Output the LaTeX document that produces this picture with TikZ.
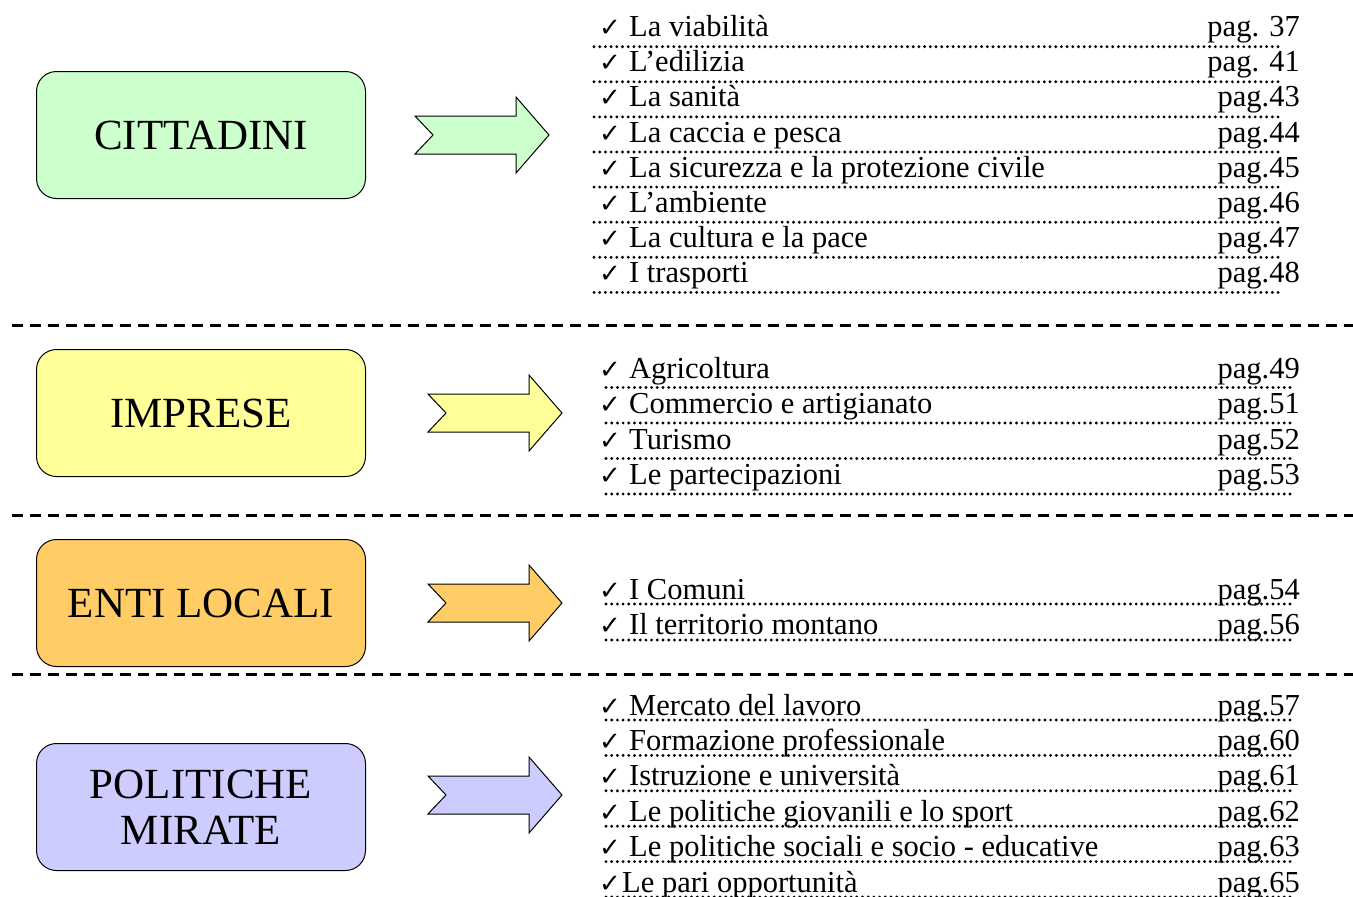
\documentclass[tikz,border=0pt]{standalone}
\usepackage{fontspec}
\setmainfont{Liberation Serif}
\newfontfamily\checkfont{DejaVu Sans}
\definecolor{verde}{HTML}{CCFFCC}
\definecolor{giallo}{HTML}{FFFF99}
\definecolor{arancio}{HTML}{FFCC66}
\definecolor{lilla}{HTML}{CCCCFF}
\tikzset{
	area/.style={draw,line width=1pt,rounded corners=20pt,minimum width=329pt,minimum height=127pt,align=center,font=\fontsize{43}{50}\selectfont},
	voce/.style={anchor=base west,inner sep=0pt,font=\fontsize{30.5}{36}\selectfont},
	pagina/.style={anchor=base east,inner sep=0pt,font=\fontsize{30.5}{36}\selectfont},
	spunta/.style={anchor=base west,inner sep=0pt,font=\checkfont\fontsize{26}{28}\selectfont},
	punti/.style={line width=3.2pt,line cap=round,dash pattern=on 0pt off 5.7pt},
	separa/.style={line width=3pt,dash pattern=on 11pt off 7pt},
	freccia/.style={draw,line width=1pt,line join=miter}
}
% riga dell'indice: nome, linea di base, x del testo, testo, pagina, distanza dei punti
\newcommand{\riga}[6]{
	\draw[punti] (\xa,{#2+#6}) -- (\xb,{#2+#6});
	\node[spunta] (#1s) at (599,{#2}) {✓};
	\node[voce] (#1) at (#3,{#2}) {#4};
	\node[pagina] (#1p) at (1300,{#2}) {#5};}
% freccia con coda dentellata, dal punto #1
\newcommand{\frecciona}[2]{
	\draw[freccia,fill=#2] (#1) ++(0,-19) -- ++(101,0) -- ++(0,-19) -- ++(33,38) -- ++(-33,38) -- ++(0,-19) -- ++(-101,0) -- ++(18,-19) -- cycle;}
\begin{document}
\begin{tikzpicture}[x=1pt,y=-1pt,line join=round]
	\useasboundingbox (0,0) rectangle (1353,897);
	\node[area,fill=verde] (cittadini) at (201,135) {CITTADINI};
	\node[area,fill=giallo] (imprese) at (201,413) {IMPRESE};
	\node[area,fill=arancio] (enti) at (201,603) {ENTI LOCALI};
	\node[area,fill=lilla] (politiche) at (201,807) {POLITICHE\\[-4pt]MIRATE};
	\coordinate (f1) at (415,135);
	\coordinate (f2) at (428,413);
	\coordinate (f3) at (428,603);
	\coordinate (f4) at (428,795);
	\frecciona{f1}{verde}
	\frecciona{f2}{giallo}
	\frecciona{f3}{arancio}
	\frecciona{f4}{lilla}
	\foreach \y in {325,515,674}
		\draw[separa] (12,\y) -- (1353,\y);
	\def\xa{594}\def\xb{1283}
	\foreach \v/\p [count=\i] in {La viabilità/pag. 37,L’edilizia/pag. 41,La sanità/pag.43,La caccia e pesca/pag.44,La sicurezza e la protezione civile/pag.45,L’ambiente/pag.46,La cultura e la pace/pag.47,I trasporti/pag.48}{
		\riga{c\i}{36.7+35.1*(\i-1)}{629}{\v}{\p}{10}}
	\def\xa{606}\def\xb{1294}
	\foreach \v/\p [count=\i] in {Agricoltura/pag.49,Commercio e artigianato/pag.51,Turismo/pag.52,Le partecipazioni/pag.53}{
		\riga{m\i}{378+35.5*(\i-1)}{629}{\v}{\p}{9.5}}
	\riga{e1}{599}{629}{I Comuni}{pag.54}{5}
	\riga{e2}{634}{629}{Il territorio montano}{pag.56}{6}
	\foreach \v/\p [count=\i] in {Mercato del lavoro/pag.57,Formazione professionale/pag.60,Istruzione e università/pag.61,Le politiche giovanili e lo sport/pag.62,Le politiche sociali e socio - educative/pag.63}{
		\riga{p\i}{715+35.4*(\i-1)}{629}{\v}{\p}{5}}
	\riga{p6}{892}{622}{Le pari opportunità}{pag.65}{5}
\end{tikzpicture}
\end{document}
